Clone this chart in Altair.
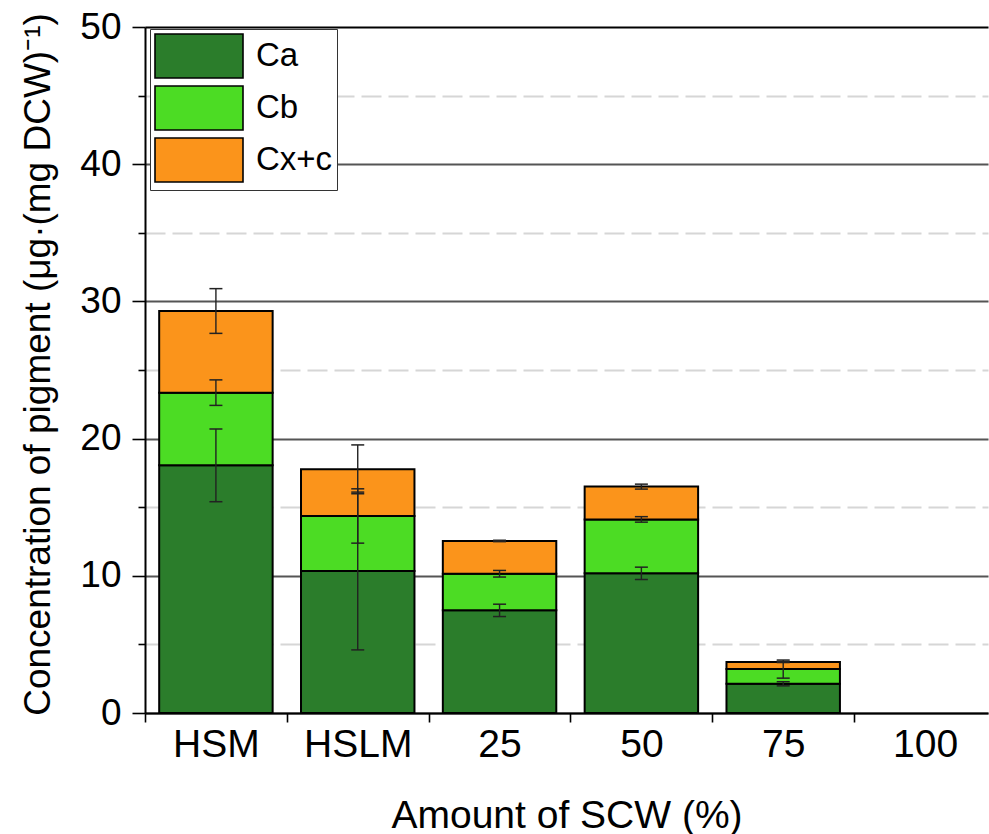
import altair as alt
import pandas as pd

# ---- data ----
categories = ["HSM", "HSLM", "25", "50", "75", "100"]
components = ["Ca", "Cb", "Cx+c"]
colors = ["#2B7D2B", "#4CDC24", "#FB941B"]

# stacked segment heights (µg per mg DCW)
ca_vals = [18.05, 10.35, 7.48, 10.18, 2.13, 0.0]
cb_vals = [5.30, 4.01, 2.67, 3.93, 1.07, 0.0]
cxc_vals = [5.95, 3.40, 2.39, 2.39, 0.52, 0.0]

# error bars (±), drawn at the top of each segment
ca_err = [2.65, 5.75, 0.45, 0.45, 0.15, 0.0]
cb_err = [0.93, 1.98, 0.24, 0.20, 0.66, 0.0]
cxc_err = [1.63, 1.78, 0.05, 0.18, 0.04, 0.0]

rows = []
for i, cat in enumerate(categories):
    base = 0.0
    for k, (comp, vals, errs) in enumerate(
        zip(components, [ca_vals, cb_vals, cxc_vals], [ca_err, cb_err, cxc_err])
    ):
        top = base + vals[i]
        rows.append(
            dict(
                category=cat,
                component=comp,
                order=k,
                lo=base,
                hi=top,
                err=errs[i],
                e_lo=top - errs[i],
                e_hi=top + errs[i],
                pos=i + 0.5,
                x0=i + 0.1,
                x1=i + 0.9,
            )
        )
        base = top
df = pd.DataFrame(rows)

js_cats = "[" + ",".join("'" + c + "'" for c in categories) + "]"

FONT = "Liberation Sans"

x_scale = alt.Scale(domain=[0, 5.944], nice=False, zero=False)
y_scale = alt.Scale(domain=[0, 50], nice=False, zero=True)

x_axis = alt.Axis(
    title="Amount of SCW (%)",
    values=[0, 0.5, 1, 1.5, 2, 2.5, 3, 3.5, 4, 4.5, 5, 5.5],
    labelExpr="datum.value % 1 == 0 ? '' : " + js_cats + "[floor(datum.value)]",
    tickOpacity={"condition": {"test": "datum.value % 1 == 0", "value": 1}, "value": 0},
    tickSize=9,
    tickWidth=1.6,
    tickColor="black",
    labelPadding=3,
    labelFont=FONT,
    labelFontSize=39,
    labelColor="black",
    labelOverlap=False,
    labelFlush=False,
    domainColor="black",
    domainWidth=2,
    grid=False,
    titleFont=FONT,
    titleFontSize=39,
    titleFontWeight="normal",
    titleColor="black",
    titleY=114,
    titleBaseline="alphabetic",
    titleAlign="center",
)

y_axis = alt.Axis(
    title="Concentration of pigment (μg·(mg DCW)⁻¹)",
    values=[0, 5, 10, 15, 20, 25, 30, 35, 40, 45, 50],
    labelExpr="datum.value % 10 == 0 ? datum.label : ''",
    tickSize={"condition": {"test": "datum.value % 10 == 0", "value": 13}, "value": 7},
    tickWidth=1.6,
    tickColor="black",
    labelPadding=11,
    labelFont=FONT,
    labelFontSize=37,
    labelColor="black",
    labelOverlap=False,
    domainColor="black",
    domainWidth=2,
    grid=True,
    gridColor={
        "condition": [
            {"test": "datum.value == 50", "value": "black"},
            {"test": "datum.value % 10 == 0", "value": "#555555"},
        ],
        "value": "#d6d6d6",
    },
    gridDash={"condition": {"test": "datum.value % 10 == 0", "value": []}, "value": [20, 7]},
    gridWidth={"condition": {"test": "datum.value % 10 == 0", "value": 2.2}, "value": 1.8},
    titleFont=FONT,
    titleFontSize=37,
    titleFontWeight="normal",
    titleColor="black",
    titlePadding=22,
    titleY=337,
)

base = alt.Chart(df)

bars = (
    base.transform_filter("datum.hi > datum.lo")
    .mark_bar(stroke="black", strokeWidth=2, opacity=1)
    .encode(
        x=alt.X("x0:Q", scale=x_scale, axis=x_axis),
        x2="x1:Q",
        y=alt.Y("lo:Q", scale=y_scale, axis=y_axis),
        y2="hi:Q",
        color=alt.Color(
            "component:N",
            scale=alt.Scale(domain=components, range=colors),
            legend=alt.Legend(
                title=None,
                orient="none",
                legendX=5,
                legendY=2,
                symbolType="M-1,-1H3V1H-1Z",
                symbolSize=1936,
                symbolStrokeColor="black",
                symbolStrokeWidth=1.6,
                symbolOpacity=1,
                labelFont=FONT,
                labelFontSize=33,
                labelColor="black",
                labelOffset=56,
                rowPadding=0,
                padding=4,
                fillColor="white",
                strokeColor="#333333",
            ),
        ),
        order=alt.Order("order:Q"),
    )
)

err_base = base.transform_filter("datum.err > 0")

rules = err_base.mark_rule(color="#222222", strokeWidth=1.4).encode(
    x=alt.X("pos:Q", scale=x_scale),
    y=alt.Y("e_lo:Q", scale=y_scale),
    y2="e_hi:Q",
)

caps_lo = err_base.mark_tick(orient="horizontal", size=13, thickness=1.5, color="#222222", opacity=1).encode(
    x=alt.X("pos:Q", scale=x_scale),
    y=alt.Y("e_lo:Q", scale=y_scale),
)
caps_hi = err_base.mark_tick(orient="horizontal", size=13, thickness=1.5, color="#222222", opacity=1).encode(
    x=alt.X("pos:Q", scale=x_scale),
    y=alt.Y("e_hi:Q", scale=y_scale),
)

chart = (
    alt.layer(bars, rules, caps_lo, caps_hi)
    .properties(
        width=843,
        height=686,
        autosize=alt.AutoSizeParams(type="none"),
        padding={"left": 145, "top": 27, "right": 1, "bottom": 121},
        background="white",
    )
    .configure_view(stroke="transparent")
)

chart.save("out.html", embed_options={"renderer": "svg", "actions": False})
